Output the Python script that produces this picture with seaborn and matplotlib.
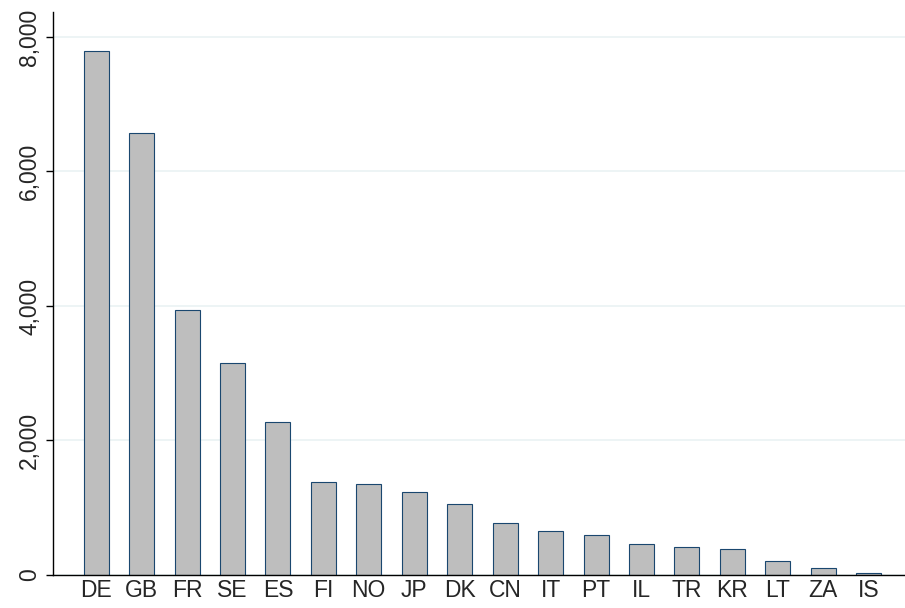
import seaborn as sns
import matplotlib.pyplot as plt
import pandas as pd

countries = ["DE", "GB", "FR", "SE", "ES", "FI", "NO", "JP", "DK",
             "CN", "IT", "PT", "IL", "TR", "KR", "LT", "ZA", "IS"]
values = [7790, 6575, 3940, 3155, 2278, 1384, 1350, 1240, 1061,
          773, 657, 588, 467, 421, 392, 213, 110, 29]


def main():
    df = pd.DataFrame({"country": countries, "value": values})
    sns.set_style("white")
    plt.rcParams['font.family'] = ['Liberation Sans', 'DejaVu Sans']
    fig = plt.figure(figsize=(9.05, 6.08), dpi=100)
    ax = fig.add_axes([53 / 905, 33 / 608, 852 / 905, (575 - 12) / 608])
    sns.barplot(data=df, x="country", y="value", color="#bebebe",
                saturation=1, width=0.55, edgecolor="#1a476f",
                linewidth=0.8, ax=ax)
    ax.set_xlim(-0.95, 17.8)
    ax.set_ylim(0, 8370)
    ax.set_yticks([0, 2000, 4000, 6000, 8000])
    ax.set_yticklabels(["0", "2,000", "4,000", "6,000", "8,000"],
                       rotation=90, va="center", fontsize=16.5)
    ax.tick_params(axis="x", labelsize=16.5, length=0, pad=3)
    ax.tick_params(axis="y", length=5, width=1, left=True, color="black")
    ax.yaxis.grid(True, color="#eaf2f3", linewidth=1.2)
    ax.set_axisbelow(True)
    ax.set_xlabel("")
    ax.set_ylabel("")
    for s in ["top", "right"]:
        ax.spines[s].set_visible(False)
    for s in ["left", "bottom"]:
        ax.spines[s].set_color("black")
        ax.spines[s].set_linewidth(1)
    fig.savefig("out.png", dpi=100)


if __name__ == "__main__":
    main()
